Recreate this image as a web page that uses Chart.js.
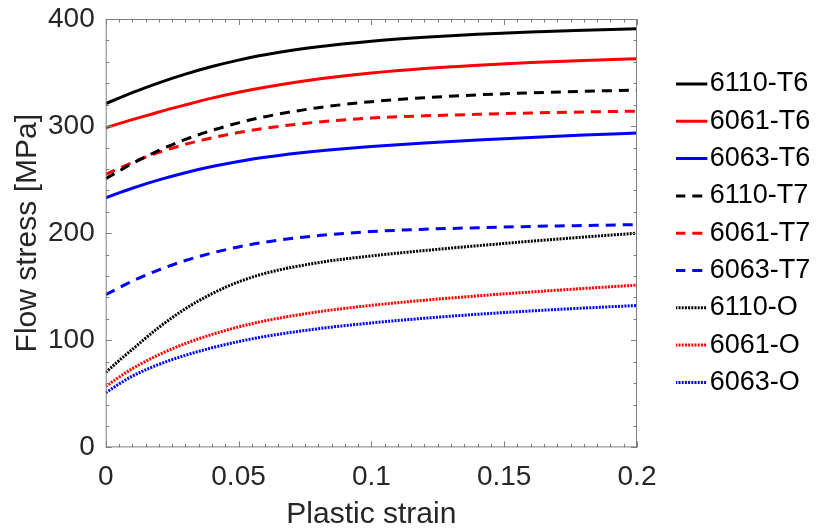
<!DOCTYPE html>
<html>
<head>
<meta charset="utf-8">
<script src="https://cdn.jsdelivr.net/npm/chart.js@4.4.1/dist/chart.umd.min.js"></script>
<style>
  html, body { margin: 0; padding: 0; background: #fff; }
  #wrap { width: 819px; height: 530px; }
</style>
</head>
<body>
<div id="wrap"><canvas id="flow-chart"></canvas></div>
<script>
// plastic strain sample points (x)
const strain = [0, 0.005, 0.01, 0.02, 0.03, 0.04, 0.05, 0.06, 0.08, 0.1, 0.12, 0.14, 0.16, 0.18, 0.2];

// flow stress [MPa]
const t6_6110 = [321, 326.2, 331.2, 340.4, 348.5, 355.6, 361.6, 366.6, 374, 379.2, 382.9, 385.7, 387.8, 389.5, 391];
const t6_6061 = [298.5, 302.3, 306, 313.2, 319.8, 326.1, 331.6, 336.3, 343.9, 349.6, 353.8, 356.9, 359.3, 361.3, 363];
const t6_6063 = [233, 237.6, 242, 249.8, 256.5, 262.2, 267, 271, 276.8, 281, 284.3, 287, 289.4, 291.6, 293.6];
const t7_6110 = [251, 258, 265, 277.3, 287.6, 296, 303, 308.8, 317.2, 322.8, 326.5, 329.2, 331.1, 332.5, 333.6];
const t7_6061 = [255, 260.5, 266, 275.5, 283, 289, 294, 298, 303.8, 307.5, 309.6, 311, 312.2, 313.2, 314];
const t7_6063 = [142.5, 149, 155.2, 165.8, 174.5, 181.5, 187.2, 191.7, 197.8, 201.5, 203.7, 205.1, 206.3, 207.2, 208];
const o_6110 = [70, 81, 91.5, 112, 129.5, 143.5, 154.5, 162.5, 172.5, 178.8, 183.8, 188.3, 192.5, 196.4, 200];
const o_6061 = [57, 65.5, 73.5, 86.5, 97, 105.5, 112.5, 118.2, 126.6, 132.6, 137.4, 141.5, 145.1, 148.4, 151.5];
const o_6063 = [51, 59.2, 66.5, 77.5, 86, 93, 98.8, 103.6, 110.8, 116.2, 120.6, 124.3, 127.4, 130.1, 132.5];

const labels = ['6110-T6', '6061-T6', '6063-T6', '6110-T7', '6061-T7', '6063-T7', '6110-O', '6061-O', '6063-O'];
const values = [t6_6110, t6_6061, t6_6063, t7_6110, t7_6061, t7_6063, o_6110, o_6061, o_6063];

const xTicks = [0, 0.05, 0.1, 0.15, 0.2];
const yTicks = [0, 100, 200, 300, 400];
const xMinorStep = 0.005;
const yMinorStep = 20;

const colors = ['#000000', '#ff0000', '#0000ff'];
const dashes = [[], [10, 7], [2, 1.2]];
const font = "'Liberation Sans', Arial, Helvetica, sans-serif";
const textGray = '#262626';

// box around the axes with inward ticks on all four sides (matlab style)
const axisBox = {
    id: 'axisBox',
    afterDatasetsDraw(chart) {
        const {ctx, chartArea: a, scales: {x, y}} = chart;
        ctx.save();
        ctx.strokeStyle = '#7f7f7f';
        ctx.lineWidth = 1;
        ctx.setLineDash([]);
        ctx.strokeRect(a.left + 0.5, a.top + 0.5, a.width - 1, a.height - 1);
        ctx.beginPath();
        const nx = Math.round((x.max - x.min) / xMinorStep);
        for (let i = 0; i <= nx; i++) {
            const v = x.min + i * xMinorStep;
            const px = Math.round(x.getPixelForValue(v)) + 0.5;
            const len = xTicks.some(t => Math.abs(t - v) < 1e-9) ? 6 : 3.5;
            ctx.moveTo(px, a.bottom); ctx.lineTo(px, a.bottom - len);
            ctx.moveTo(px, a.top); ctx.lineTo(px, a.top + len);
        }
        const ny = Math.round((y.max - y.min) / yMinorStep);
        for (let j = 0; j <= ny; j++) {
            const v = y.min + j * yMinorStep;
            const py = Math.round(y.getPixelForValue(v)) + 0.5;
            const len = yTicks.includes(v) ? 6 : 3.5;
            ctx.moveTo(a.left, py); ctx.lineTo(a.left + len, py);
            ctx.moveTo(a.right, py); ctx.lineTo(a.right - len, py);
        }
        ctx.stroke();
        ctx.restore();
    }
};

const datasets = labels.map((label, i) => ({
    label: label,
    data: strain.map((s, k) => ({x: s, y: values[i][k]})),
    borderColor: colors[i % 3],
    backgroundColor: colors[i % 3],
    borderWidth: 3,
    borderDash: dashes[Math.floor(i / 3)],
    pointRadius: 0,
    cubicInterpolationMode: 'monotone',
    fill: false
}));

new Chart(document.querySelector('#flow-chart').getContext('2d'), {
    type: 'line',
    data: { datasets: datasets },
    plugins: [axisBox],
    options: {
        responsive: true,
        maintainAspectRatio: false,
        animation: false,
        events: [],
        layout: { padding: { left: 1, right: 8, top: 19, bottom: -3 } },
        plugins: {
            tooltip: { enabled: false },
            legend: {
                position: 'right',
                fullSize: false,
                labels: {
                    usePointStyle: true,
                    pointStyle: 'line',
                    boxWidth: 10,
                    boxHeight: 22.63,
                    padding: 10.3,
                    color: '#000000',
                    font: { family: font, size: 27 },
                    // point style legends drop the dash pattern, put it back
                    generateLabels: chart => Chart.defaults.plugins.legend.labels.generateLabels(chart).map(item => {
                        const ds = chart.data.datasets[item.datasetIndex];
                        return Object.assign(item, { lineDash: ds.borderDash, lineWidth: 3, strokeStyle: ds.borderColor });
                    })
                }
            }
        },
        scales: {
            x: {
                type: 'linear',
                min: 0,
                max: 0.2,
                afterBuildTicks: s => { s.ticks = xTicks.map(v => ({value: v})); },
                grid: { display: false, drawTicks: false },
                border: { display: false },
                ticks: {
                    padding: 13,
                    color: textGray,
                    maxRotation: 0,
                    autoSkip: false,
                    font: { family: font, size: 28 },
                    callback: v => String(v)
                },
                title: {
                    display: true,
                    text: 'Plastic strain',
                    color: textGray,
                    font: { family: font, size: 30 },
                    padding: { top: -10, bottom: 0 }
                }
            },
            y: {
                type: 'linear',
                min: 0,
                max: 400,
                afterBuildTicks: s => { s.ticks = yTicks.map(v => ({value: v})); },
                // top label may stick out above the box, like in the original
                afterFit: s => { s.paddingTop = 0; s.paddingBottom = 0; },
                grid: { display: false, drawTicks: false },
                border: { display: false },
                ticks: {
                    padding: 11,
                    color: textGray,
                    font: { family: font, size: 28 }
                },
                title: {
                    display: true,
                    text: 'Flow stress [MPa]',
                    color: textGray,
                    font: { family: font, size: 30 },
                    padding: { top: 9, bottom: -9 }
                }
            },
            // empty axis, only keeps the gap between plot box and legend
            gap: {
                type: 'linear',
                axis: 'y',
                position: 'right',
                grid: { display: false, drawTicks: false },
                border: { display: false },
                ticks: { display: false },
                afterFit: s => { s.width = 39; }
            }
        }
    }
});
</script>
</body>
</html>
